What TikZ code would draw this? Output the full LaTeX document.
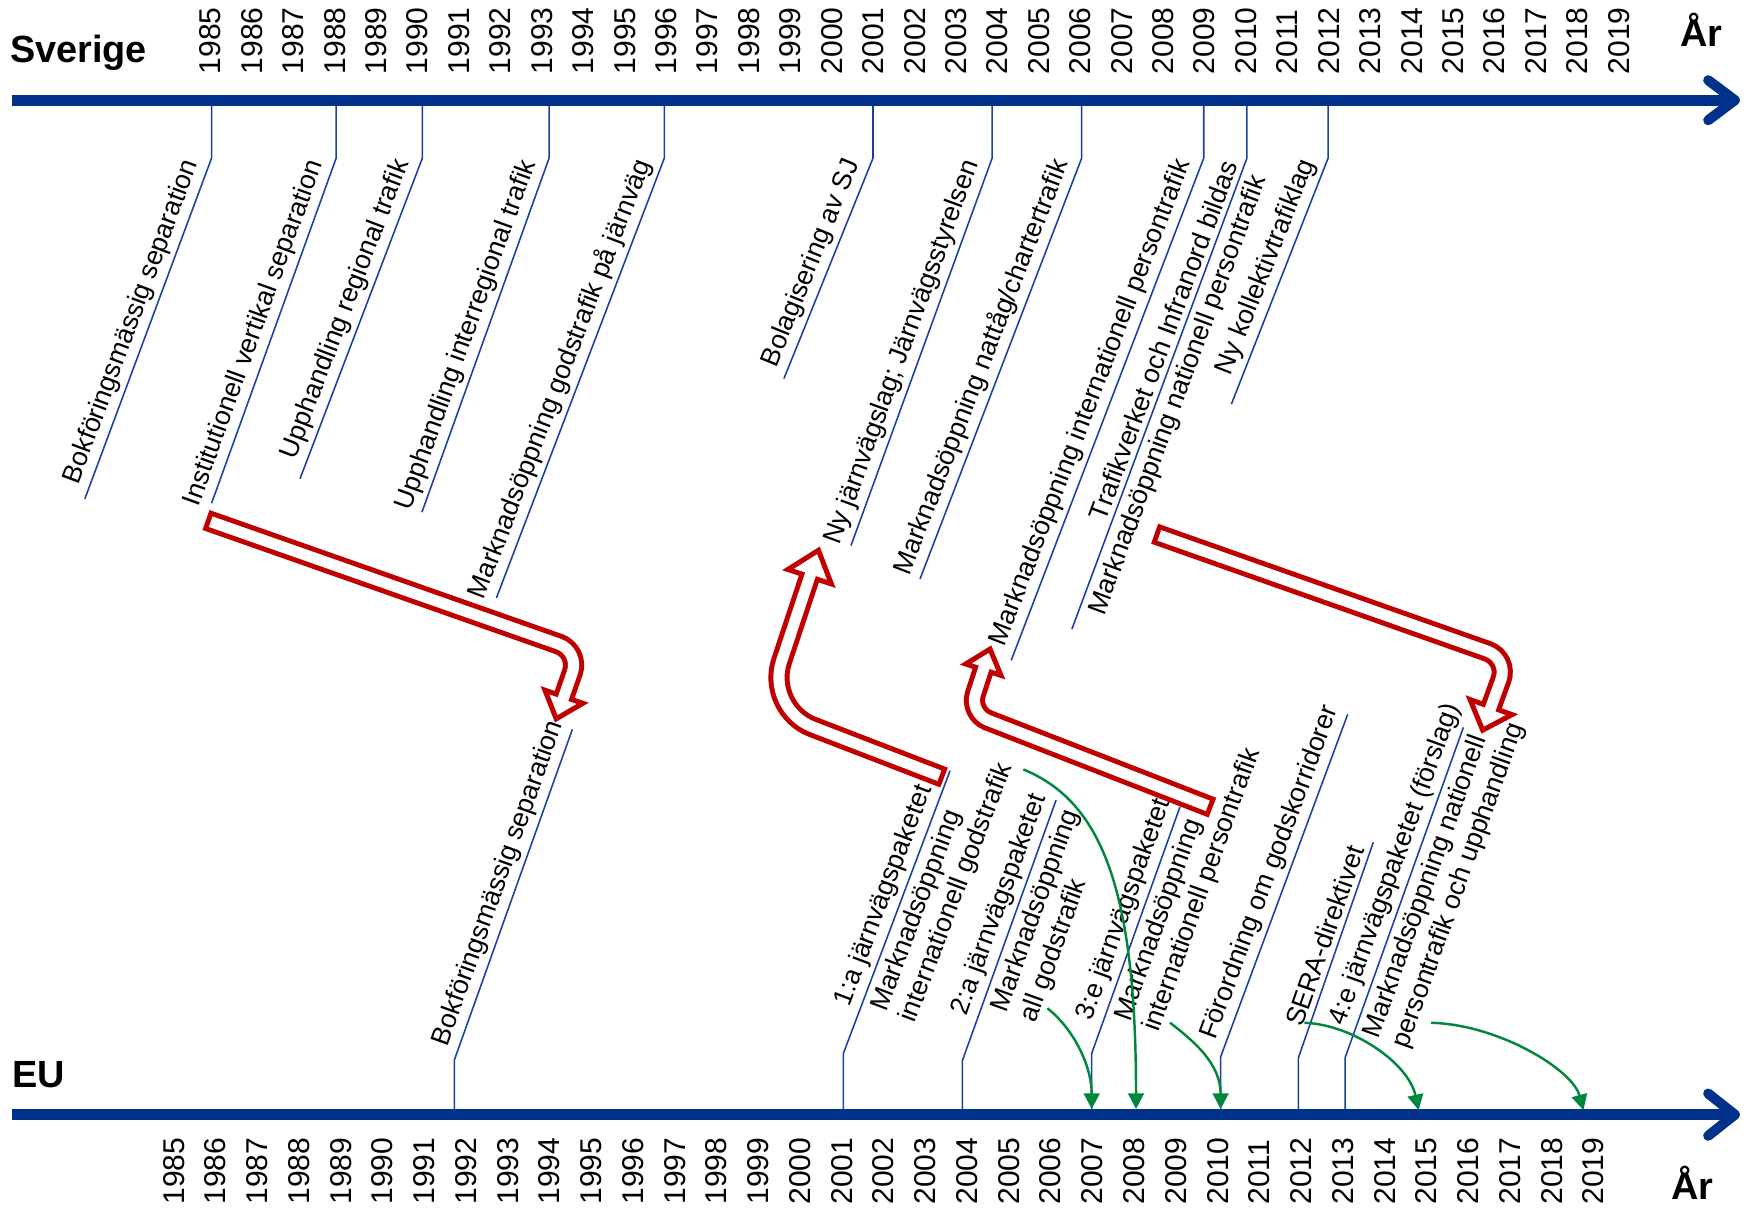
\documentclass[tikz,border=0pt]{standalone}
\usepackage{fontspec}
\setmainfont{Liberation Sans}
\usetikzlibrary{calc,arrows.meta}
\definecolor{axblue}{RGB}{0,50,140}
\definecolor{evblue}{RGB}{25,65,160}
\definecolor{arred}{RGB}{192,0,0}
\definecolor{argreen}{RGB}{0,135,62}
\newcommand\TopEv[5]{%
  \coordinate (#1a) at (#2,90);
  \coordinate (#1b) at (#2,142);
  \coordinate (#1e) at (#3,#4);
  \draw[tick] (#1a) -- (#1b) -- (#1e);
  \path (#1e) -- ($(#1b)!4pt!(#1e)$) node[evl,pos=1,anchor=south east] (#1l) {#5};
}
\newcommand\BotEv[7]{%
  \coordinate (#1a) at (#2,1001);
  \coordinate (#1b) at (#2,#3);
  \coordinate (#1e) at (#4,#5);
  \draw[tick] (#1a) -- (#1b) -- (#1e);
  \path ($(#1b)!#6pt!(#1e)$) -- (#1e) node[evl,pos=0,anchor=south west] (#1l) {#7};
}
\newcommand\BotRight[3]{%
  \path ($(#1b)!#2pt!(#1e)$) -- (#1e) node[evl,evr,pos=0,anchor=north west] (#1r) {#3};
}
\newcommand\RedArrow[8]{% name, tail, corner, base, tip, barb1, barb2, rounding
  \coordinate (#1t) at #2;
  \coordinate (#1c) at #3;
  \coordinate (#1b) at #4;
  \coordinate (#1p) at #5;
  \coordinate (#1l) at #6;
  \coordinate (#1r) at #7;
  \draw[redout,rounded corners=#8] (#1t) -- (#1c) -- (#1b);
  \draw[redhead] (#1l) -- (#1p) -- (#1r) -- cycle;
  \draw[redin,rounded corners=#8] ($(#1t)!4.5pt!(#1c)$) -- (#1c) -- ($(#1b)!-3.5pt!(#1c)$);
}
\begin{document}
\begin{tikzpicture}[x=1pt,y=-1pt,
  axisline/.style={draw=axblue,line width=10pt},
  chev/.style={draw=axblue,line width=9pt,line cap=round,line join=round},
  tick/.style={draw=evblue,line width=1.4pt},
  yr/.style={font=\fontsize{27}{27}\selectfont,rotate=90,inner sep=0pt,anchor=west},
  ttl/.style={font=\fontsize{34}{34}\selectfont\bfseries,inner sep=0pt},
  evl/.style={sloped,font=\fontsize{24}{27.5}\selectfont,inner sep=4.5pt,align=left},
  evr/.style={inner sep=5.5pt},
  redout/.style={draw=arred,line width=19pt},
  redin/.style={draw=white,line width=10pt},
  redhead/.style={draw=arred,line width=4.5pt,fill=white,line join=miter},
  grarrow/.style={draw=argreen,line width=2.2pt,-{Triangle[length=14pt,width=14pt]}}
]
\fill[white] (0,0) rectangle (1568,1090);
\useasboundingbox (0,0) rectangle (1568,1090);

% titles
\node[ttl,anchor=west] (sv) at (9,47) {Sverige};
\node[ttl,anchor=west] (eu) at (11,965) {EU};
\node[ttl] (ar1) at (1528,27) {År};
\node[ttl] (ar2) at (1520,1062) {År};

% year labels
\foreach \i in {0,...,34}{
  \pgfmathtruncatemacro\yy{1985+\i}
  \node[yr] (ty\i) at ({189+37.2*\i},67) {\yy};
  \node[yr] (by\i) at ({156+37.5*\i},1082) {\yy};
}

% event ticks (Sverige)
\TopEv{t1}{190.0}{76.2}{448}{Bokföringsmässig separation}
\TopEv{t2}{301.9}{190}{452}{Institutionell vertikal separation}
\TopEv{t3}{379.3}{269.4}{430}{Upphandling regional trafik}
\TopEv{t4}{493.1}{378.9}{460}{Upphandling interregional trafik}
\TopEv{t5}{596.6}{445.8}{537}{Marknadsöppning godstrafik på järnväg}
\TopEv{t6}{784}{704}{340}{Bolagisering av SJ}
\TopEv{t7}{891}{764.2}{490}{Ny järnvägslag; Järnvägsstyrelsen}
\TopEv{t8}{971.4}{826.2}{520}{Marknadsöppning nattåg/chartertrafik}
\TopEv{t9}{1081}{908.1}{593}{Marknadsöppning internationell persontrafik}
\TopEv{t10}{1119.8}{962.6}{565}{Trafikverket och Infranord bildas}
\path (t10e) -- ($(t10b)!6pt!(t10e)$) node[evl,evr,pos=1,anchor=north east] (t10r) {Marknadsöppning nationell persontrafik};
\TopEv{t11}{1192.7}{1105.8}{363}{Ny kollektivtrafiklag}

% event ticks (EU)
\BotEv{b1}{408}{952}{514}{655}{4}{Bokföringsmässig separation}
\BotEv{b2}{757.4}{946}{853.2}{692.1}{36}{1:a järnvägspaketet}
\BotRight{b2}{42}{Marknadsöppning\\internationell godstrafik}
\BotEv{b3}{864.2}{952.6}{948.4}{718.5}{34}{2:a järnvägspaketet}
\BotRight{b3}{48}{Marknadsöppning\\all godstrafik}
\BotEv{b4}{980.4}{946}{1059.7}{724.5}{22}{3:e järnvägspaketet}
\BotRight{b4}{32}{Marknadsöppning\\internationell persontrafik}
\BotEv{b5}{1096.2}{949}{1210.3}{641.5}{7}{Förordning om godskorridorer}
\BotEv{b6}{1166}{950}{1233.3}{756.4}{22}{SERA-direktivet}
\BotEv{b7}{1207.9}{950}{1314.2}{653.2}{22}{4:e järnvägspaketet (förslag)}
\BotRight{b7}{20}{Marknadsöppning nationell\\persontrafik och upphandling}

% axes
\coordinate (tax0) at (11,90);
\coordinate (tax1) at (1558,90);
\draw[axisline] (tax0) -- (tax1);
\draw[chev] ($(tax1)+(-24,-18)$) -- (tax1) -- ($(tax1)+(-24,18)$);
\coordinate (bax0) at (11,1001);
\coordinate (bax1) at (1558,1001);
\draw[axisline] (bax0) -- (bax1);
\draw[chev] ($(bax1)+(-24,-19)$) -- (bax1) -- ($(bax1)+(-24,19)$);

% red arrows
\RedArrow{ra}{(185,467)}{(520.6,585)}{(506.4,625.7)}{(499.5,645.5)}{(489.4,619.8)}{(523.4,631.6)}{20pt}
\RedArrow{rb}{(847.8,698.3)}{(687.7,636.6)}{(727.1,517.9)}{(735,494.2)}{(707.6,511.4)}{(746.6,524.4)}{45pt}
\RedArrow{rc}{(1088.8,725.3)}{(870.4,640.3)}{(883.1,601.4)}{(889.1,582.9)}{(867.3,596.3)}{(898.9,606.5)}{18pt}
\RedArrow{rd}{(1036.9,479.3)}{(1354.7,591.5)}{(1339,635)}{(1331.5,655.7)}{(1320.2,628.2)}{(1357.8,641.8)}{20pt}

% green arrows
\coordinate (g1s) at (940.6,905.5);  \coordinate (g1e) at (980.4,996);
\coordinate (g2s) at (919,691);      \coordinate (g2e) at (1020.2,996);
\coordinate (g3s) at (1050.7,918.4); \coordinate (g3e) at (1096.2,996);
\coordinate (g4s) at (1171.4,918.5); \coordinate (g4e) at (1274,997);
\coordinate (g5s) at (1285.2,918.5); \coordinate (g5e) at (1422,997);
\draw[grarrow] (g1s) .. controls (962,922) and (980.4,955) .. (g1e);
\draw[grarrow] (g2s) .. controls (990,720) and (1020.2,800) .. (g2e);
\draw[grarrow] (g3s) .. controls (1072,935) and (1096.2,955) .. (g3e);
\draw[grarrow] (g4s) .. controls (1215,920) and (1265,955) .. (g4e);
\draw[grarrow] (g5s) .. controls (1345,920) and (1412,960) .. (g5e);
\end{tikzpicture}
\end{document}
